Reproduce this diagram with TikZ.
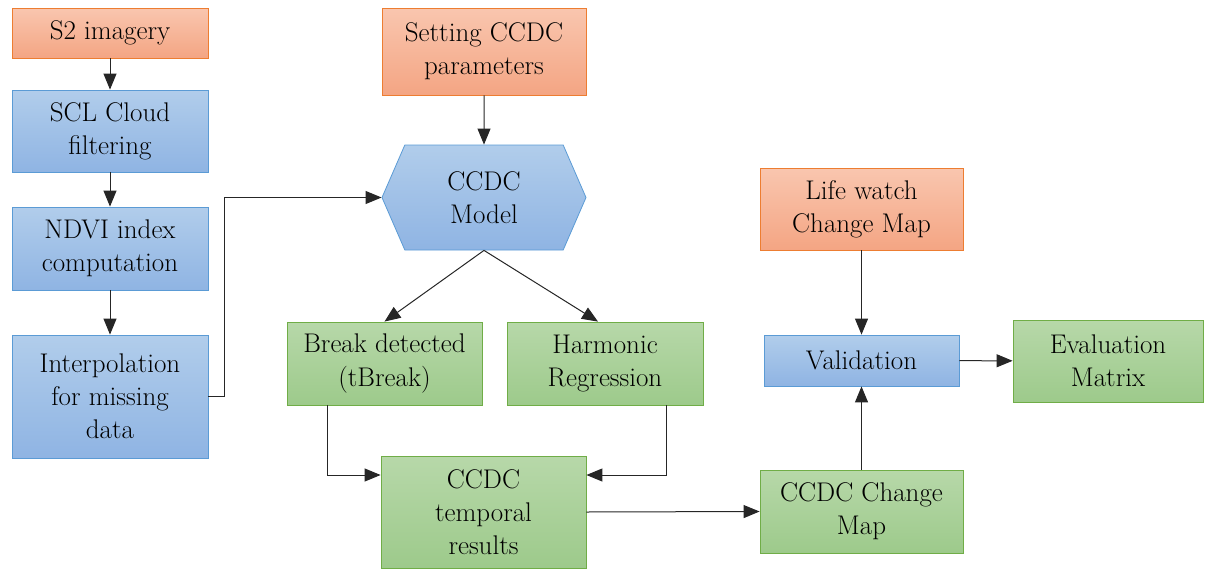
\documentclass[tikz,border=0pt]{standalone}
\usepackage{xcolor}
\usepackage{tikz}
\usetikzlibrary{calc}
\usetikzlibrary{arrows.meta}
\usetikzlibrary{shapes.symbols}

\definecolor{orangetop}{HTML}{F9C6AF}
\definecolor{orangebot}{HTML}{F4A583}
\definecolor{orangeline}{HTML}{ED7D31}
\definecolor{bluetop}{HTML}{B1CDEB}
\definecolor{bluebot}{HTML}{8FB4E3}
\definecolor{blueline}{HTML}{5B9BD5}
\definecolor{greentop}{HTML}{B7D8A9}
\definecolor{greenbot}{HTML}{9DCA8B}
\definecolor{greenline}{HTML}{70AD47}

\begin{document}
\begin{tikzpicture}[x=1pt,y=-1pt]

    \tikzstyle{box}=[rectangle,inner sep=2pt,align=center,text=black,
                     font=\fontsize{27}{33}\selectfont,line width=0.8pt]
    \tikzstyle{input box}=[box,draw=orangeline,top color=orangetop,bottom color=orangebot]
    \tikzstyle{process box}=[box,draw=blueline,top color=bluetop,bottom color=bluebot]
    \tikzstyle{result box}=[box,draw=greenline,top color=greentop,bottom color=greenbot]
    \tikzstyle{flow}=[-{Triangle[length=16pt,width=13pt]},line width=1pt,color=black!85]

    \useasboundingbox (0,0) rectangle (1217,570);

    % Left column: preprocessing
    \node[style=input box,minimum width=196pt,minimum height=50pt] (s2) at (110,33) {S2 imagery};
    \node[style=process box,minimum width=196pt,minimum height=82pt] (scl) at (110,131) {SCL Cloud\\filtering};
    \node[style=process box,minimum width=196pt,minimum height=83pt] (ndvi) at (110,248.5) {NDVI index\\computation};
    \node[style=process box,minimum width=196pt,minimum height=123pt] (interp) at (110,396.5) {Interpolation\\for missing\\data};

    % Middle: CCDC model
    \node[style=input box,minimum width=204pt,minimum height=87pt] (param) at (484,51.5) {Setting CCDC\\parameters};
    \node[style=process box,shape=signal,signal to=east and west,signal pointer angle=133,
          minimum width=204pt,minimum height=105pt] (model) at (484,197.5) {CCDC\\Model};
    \node[style=result box,minimum width=195pt,minimum height=83pt] (brk) at (384.5,363.5) {Break detected\\(tBreak)};
    \node[style=result box,minimum width=196pt,minimum height=83pt] (harm) at (605,363.5) {Harmonic\\Regression};
    \node[style=result box,minimum width=205pt,minimum height=112pt] (temporal) at (483.5,512) {CCDC\\temporal\\results};

    % Right: validation
    \node[style=input box,minimum width=203pt,minimum height=82pt] (lifewatch) at (861.5,209) {Life watch\\Change Map};
    \node[style=process box,minimum width=195pt,minimum height=51pt] (valid) at (861.5,360.5) {Validation};
    \node[style=result box,minimum width=203pt,minimum height=83pt] (changemap) at (861.5,511.5) {CCDC Change\\Map};
    \node[style=result box,minimum width=190pt,minimum height=82pt] (evalm) at (1108,361) {Evaluation\\Matrix};

    % Connectors
    \draw[style=flow] (s2) -- (scl);
    \draw[style=flow] (scl) -- (ndvi);
    \draw[style=flow] (ndvi) -- (interp);
    \draw[style=flow] (interp.east) -- ++(16,0) |- (model.west);
    \draw[style=flow] (param) -- (model);
    \draw[style=flow] (model.south) -- (brk.north);
    \draw[style=flow] (model.south) -- ([xshift=-7pt]harm.north);
    \draw[style=flow] ([xshift=-57pt]brk.south) |- ([yshift=37pt]temporal.west);
    \draw[style=flow] ([xshift=61pt]harm.south) |- ([yshift=37pt]temporal.east);
    \draw[style=flow] (temporal.east) -- (changemap.west);
    \draw[style=flow] (changemap) -- (valid);
    \draw[style=flow] (lifewatch) -- (valid);
    \draw[style=flow] (valid) -- (evalm);

\end{tikzpicture}
\end{document}
